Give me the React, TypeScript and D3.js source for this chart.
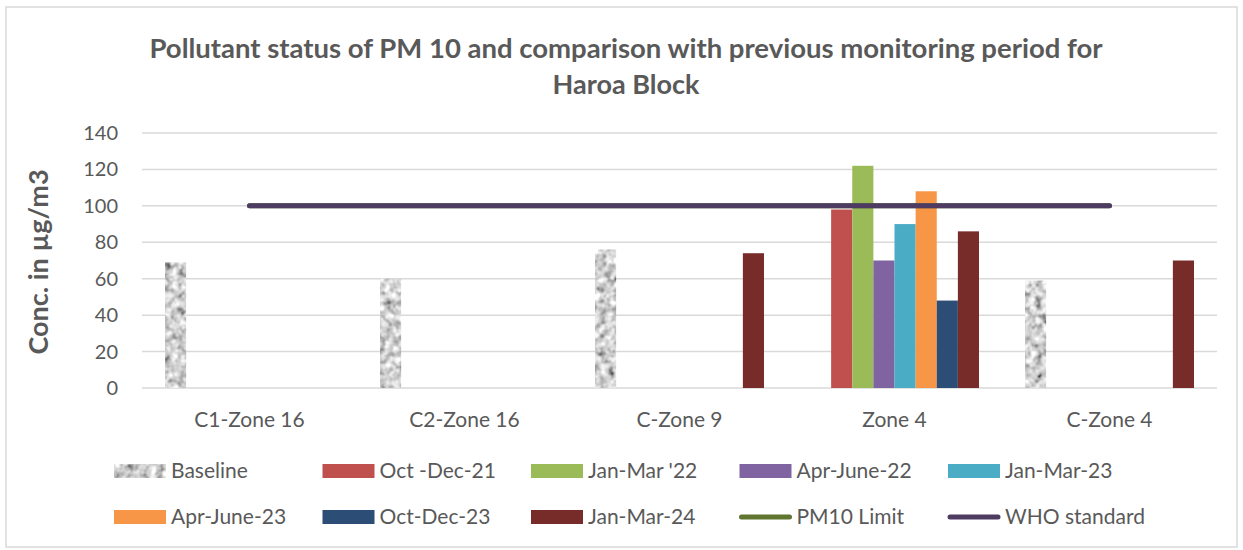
import React from "react";
import * as d3 from "d3";

const categories = ["C1-Zone 16", "C2-Zone 16", "C-Zone 9", "Zone 4", "C-Zone 4"];
const seriesNames = ["Baseline", "Oct -Dec-21", "Jan-Mar '22", "Apr-June-22", "Jan-Mar-23", "Apr-June-23", "Oct-Dec-23", "Jan-Mar-24"];
const seriesColors = ["url", "#C0504D", "#9BBB59", "#8064A2", "#4BACC6", "#F79646", "#2C4D75", "#772C2A"];
// values per series, per category (null = no data)
const baseline = [69, 60, 76, null, 59];
const octDec21 = [null, null, null, 98, null];
const janMar22 = [null, null, null, 122, null];
const aprJun22 = [null, null, null, 70, null];
const janMar23 = [null, null, null, 90, null];
const aprJun23 = [null, null, null, 108, null];
const octDec23 = [null, null, null, 48, null];
const janMar24 = [null, null, 74, 86, 70];
const seriesValues = [baseline, octDec21, janMar22, aprJun22, janMar23, aprJun23, octDec23, janMar24];
const pm10Limit = [100, 100, 100, 100, 100];
const whoStandard = [100, 100, 100, 100, 100];
const yTicks = [0, 20, 40, 60, 80, 100, 120, 140];
const legendItems = [
  { name: "Baseline", type: "pattern", color: "" },
  { name: "Oct -Dec-21", type: "rect", color: "#C0504D" },
  { name: "Jan-Mar '22", type: "rect", color: "#9BBB59" },
  { name: "Apr-June-22", type: "rect", color: "#8064A2" },
  { name: "Jan-Mar-23", type: "rect", color: "#4BACC6" },
  { name: "Apr-June-23", type: "rect", color: "#F79646" },
  { name: "Oct-Dec-23", type: "rect", color: "#2C4D75" },
  { name: "Jan-Mar-24", type: "rect", color: "#772C2A" },
  { name: "PM10 Limit", type: "line", color: "#5F7530" },
  { name: "WHO standard", type: "line", color: "#4D3B62" },
];

const W = 1243, H = 550;
const left = 142, right = 1217, top = 133, bottom = 388;
const FONT = "Lato, 'Open Sans', sans-serif";
const TXT = "#595959";

export default function App() {
  const x0 = d3.scaleBand<string>().domain(categories).range([left, right]).paddingInner(0.214).paddingOuter(0.107);
  const x1 = d3.scaleBand<number>().domain(d3.range(seriesNames.length)).range([0, x0.bandwidth()]).padding(0);
  const y = d3.scaleLinear().domain([0, 140]).range([bottom, top]);
  const center = (c: string) => (x0(c) as number) + x0.bandwidth() / 2;
  const lineGen = d3.line<number>().x((_, i) => center(categories[i])).y((d) => y(d));

  return (
    <svg width={W} height={H} style={{ position: "absolute", left: 0, top: 0, background: "#fff" }}>
      <defs>
        <filter id="noise" x="0" y="0" width="100%" height="100%" filterUnits="objectBoundingBox">
          <feTurbulence type="fractalNoise" baseFrequency="0.14" numOctaves="2" seed="7" result="t" />
          <feColorMatrix in="t" type="matrix"
            values="0.33 0.33 0.33 0 0  0.33 0.33 0.33 0 0  0.33 0.33 0.33 0 0  0 0 0 0 1" result="g" />
          <feComponentTransfer in="g" result="c">
            <feFuncR type="linear" slope="2.4" intercept="-0.55" />
            <feFuncG type="linear" slope="2.4" intercept="-0.55" />
            <feFuncB type="linear" slope="2.4" intercept="-0.55" />
          </feComponentTransfer>
          <feComposite in="c" in2="SourceGraphic" operator="in" />
        </filter>
      </defs>
      <rect x={6} y={7} width={1231} height={540} fill="#fff" stroke="#d9d9d9" strokeWidth={1.5} />
      <text x={626} y={58} textAnchor="middle" fontFamily={FONT} fontWeight="bold" fontSize={27} fill={TXT}
        textLength={953} lengthAdjust="spacingAndGlyphs">
        Pollutant status of PM 10 and comparison with previous monitoring period for
      </text>
      <text x={626} y={94} textAnchor="middle" fontFamily={FONT} fontWeight="bold" fontSize={27} fill={TXT}>
        Haroa Block
      </text>
      {yTicks.map((t) => (
        <g key={t}>
          <line x1={left} x2={right} y1={y(t)} y2={y(t)} stroke="#d9d9d9" strokeWidth={1.5} />
          <text x={118} y={y(t)} dy="0.35em" textAnchor="end" fontFamily={FONT} fontSize={20} fill={TXT}>{t}</text>
        </g>
      ))}
      <text transform={`translate(48,262) rotate(-90)`} textAnchor="middle" fontFamily={FONT} fontWeight="bold" fontSize={27} fill={TXT}>
        Conc. in µg/m3
      </text>
      {categories.map((c) => (
        <text key={c} x={center(c)} y={420} dy="0.35em" textAnchor="middle" fontFamily={FONT} fontSize={21} fill={TXT}>{c}</text>
      ))}
      {seriesValues.map((vals, si) =>
        vals.map((v, ci) =>
          v == null ? null : (
            <rect key={`${si}-${ci}`} x={(x0(categories[ci]) as number) + (x1(si) as number)} y={y(v)}
              width={x1.bandwidth()} height={y(0) - y(v)}
              fill={si === 0 ? "#999" : seriesColors[si]} filter={si === 0 ? "url(#noise)" : undefined} />
          )
        )
      )}
      <path d={lineGen(pm10Limit) || ""} fill="none" stroke="#5F7530" strokeWidth={5} strokeLinecap="round" />
      <path d={lineGen(whoStandard) || ""} fill="none" stroke="#4D3B62" strokeWidth={5} strokeLinecap="round" />
      {legendItems.map((it, i) => {
        const col = i % 5, row = Math.floor(i / 5);
        const lx = 114 + col * 208.5;
        const ly = row === 0 ? 471 : 517;
        return (
          <g key={it.name}>
            {it.type === "line" ? (
              <line x1={lx + 2} x2={lx + 50} y1={ly} y2={ly} stroke={it.color} strokeWidth={5} strokeLinecap="round" />
            ) : (
              <rect x={lx} y={ly - 7} width={52} height={14} fill={it.type === "pattern" ? "#999" : it.color}
                filter={it.type === "pattern" ? "url(#noise)" : undefined} />
            )}
            <text x={lx + 57} y={ly} dy="0.35em" fontFamily={FONT} fontSize={21} fill={TXT}>{it.name}</text>
          </g>
        );
      })}
    </svg>
  );
}
